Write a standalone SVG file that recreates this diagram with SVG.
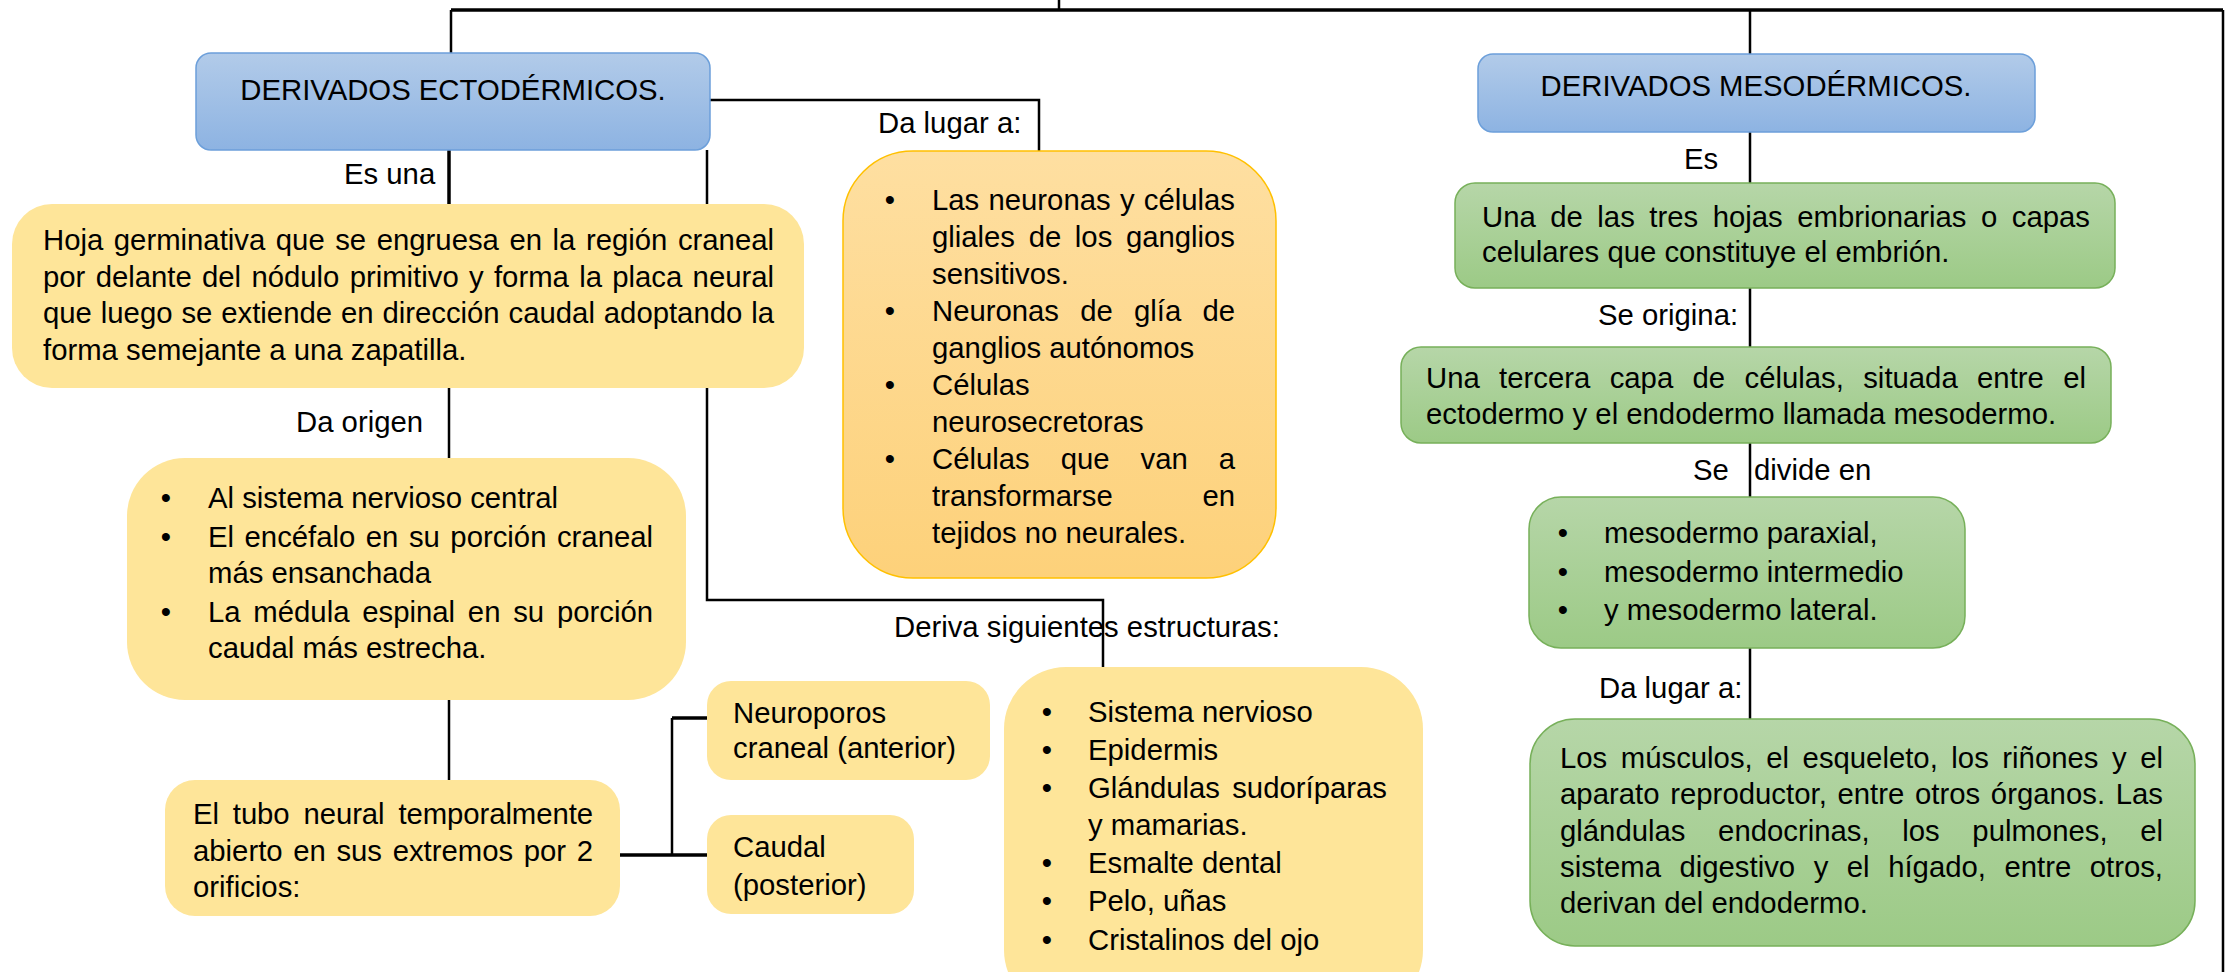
<svg xmlns="http://www.w3.org/2000/svg" width="2226" height="972" viewBox="0 0 2226 972">
<defs>
<linearGradient id="gBlue" x1="0" y1="0" x2="0" y2="1"><stop offset="0" stop-color="#B2CBE9"/><stop offset="1" stop-color="#8DB3E2"/></linearGradient>
<linearGradient id="gGreen" x1="0" y1="0" x2="0" y2="1"><stop offset="0" stop-color="#B6D6A8"/><stop offset="1" stop-color="#9CCA86"/></linearGradient>
<linearGradient id="gOrange" x1="0" y1="0" x2="0" y2="1"><stop offset="0" stop-color="#FEDFA1"/><stop offset="1" stop-color="#FDD17A"/></linearGradient>
<style>
text{font-family:"Liberation Sans",Arial,sans-serif;font-size:29.3px;fill:#000}
.blue{fill:url(#gBlue);stroke:#6C9FDA;stroke-width:1.5}
.green{fill:url(#gGreen);stroke:#77B05A;stroke-width:1.5}
.orange{fill:url(#gOrange);stroke:#FFC000;stroke-width:1.5}
.yellow{fill:#FEE599;stroke:none}
.c{fill:none;stroke:#000;stroke-width:2.5}
.top{fill:none;stroke:#000;stroke-width:3.5}
.mid{text-anchor:middle}
</style>
</defs>
<rect width="2226" height="972" fill="#fff"/>
<g id="connectors">
<path class="c" d="M1059 0 V10"/>
<path class="top" d="M451 10 H2223"/>
<path class="c" d="M2223 10 V972"/>
<path class="c" d="M451 10 V53"/>
<path class="c" d="M1750 10 V54"/>
<path class="c" d="M710 100 H1039 V151"/>
<path class="top" d="M449 150 V204"/>
<path class="c" d="M707 150 V600 H1103 V667"/>
<path class="c" d="M449 388 V458"/>
<path class="c" d="M449 700 V780"/>
<path class="top" d="M620 855 H707"/>
<path class="c" d="M672 718 V855"/>
<path class="top" d="M672 718 H707"/>
<path class="c" d="M1750 132 V183"/>
<path class="c" d="M1750 288 V347"/>
<path class="c" d="M1750 443 V497"/>
<path class="c" d="M1750 648 V719"/>
</g>
<g id="labels">
<text x="878" y="133">Da lugar a:</text>
<text x="344" y="184">Es una</text>
<text x="296" y="432">Da origen</text>
<text x="894" y="637">Deriva siguientes estructuras:</text>
<text x="1684" y="169">Es</text>
<text x="1598" y="325">Se origina:</text>
<text x="1693" y="480">Se</text>
<text x="1754" y="480">divide en</text>
<text x="1599" y="698">Da lugar a:</text>
</g>
<g id="ecto">
<rect class="blue" x="196" y="53" width="514" height="97" rx="15"/>
<text class="mid" x="453" y="100">DERIVADOS ECTODÉRMICOS.</text>
</g>
<g id="hoja">
<rect class="yellow" x="12" y="204" width="792" height="184" rx="40"/>
<text x="43" y="250" textLength="731" lengthAdjust="spacing" style="word-spacing:2.4px">Hoja germinativa que se engruesa en la región craneal</text>
<text x="43" y="287" textLength="731" lengthAdjust="spacing" style="word-spacing:2.2px">por delante del nódulo primitivo y forma la placa neural</text>
<text x="43" y="323" textLength="731" lengthAdjust="spacing" style="word-spacing:0.8px">que luego se extiende en dirección caudal adoptando la</text>
<text x="43" y="360">forma semejante a una zapatilla.</text>
</g>
<g id="origen">
<rect class="yellow" x="127" y="458" width="559" height="242" rx="58"/>
<text class="mid" x="166" y="508">•</text>
<text x="208" y="508">Al sistema nervioso central</text>
<text class="mid" x="166" y="547">•</text>
<text x="208" y="547" textLength="445" lengthAdjust="spacing" style="word-spacing:2.4px">El encéfalo en su porción craneal</text>
<text x="208" y="583">más ensanchada</text>
<text class="mid" x="166" y="622">•</text>
<text x="208" y="622" textLength="445" lengthAdjust="spacing" style="word-spacing:4.6px">La médula espinal en su porción</text>
<text x="208" y="658">caudal más estrecha.</text>
</g>
<g id="tubo">
<rect class="yellow" x="165" y="780" width="455" height="136" rx="30"/>
<text x="193" y="824" textLength="400" lengthAdjust="spacing" style="word-spacing:5.8px">El tubo neural temporalmente</text>
<text x="193" y="861" textLength="400" lengthAdjust="spacing" style="word-spacing:2.5px">abierto en sus extremos por 2</text>
<text x="193" y="897">orificios:</text>
</g>
<g id="neuroporos">
<rect class="yellow" x="707" y="681" width="283" height="99" rx="24"/>
<text x="733" y="723">Neuroporos</text>
<text x="733" y="758">craneal (anterior)</text>
</g>
<g id="caudal">
<rect class="yellow" x="707" y="815" width="207" height="99" rx="24"/>
<text x="733" y="857">Caudal</text>
<text x="733" y="895">(posterior)</text>
</g>
<g id="dalugar">
<rect class="orange" x="843" y="151" width="433" height="427" rx="70"/>
<text class="mid" x="890" y="210">•</text>
<text x="932" y="210" textLength="303" lengthAdjust="spacing" style="word-spacing:1.1px">Las neuronas y células</text>
<text x="932" y="247" textLength="303" lengthAdjust="spacing" style="word-spacing:5.5px">gliales de los ganglios</text>
<text x="932" y="284">sensitivos.</text>
<text class="mid" x="890" y="321">•</text>
<text x="932" y="321" textLength="303" lengthAdjust="spacing" style="word-spacing:13.1px">Neuronas de glía de</text>
<text x="932" y="358">ganglios autónomos</text>
<text class="mid" x="890" y="395">•</text>
<text x="932" y="395">Células</text>
<text x="932" y="432">neurosecretoras</text>
<text class="mid" x="890" y="469">•</text>
<text x="932" y="469" textLength="303" lengthAdjust="spacing" style="word-spacing:22.8px">Células que van a</text>
<text y="506"><tspan x="932">transformarse</tspan><tspan x="1235" text-anchor="end">en</tspan></text>
<text x="932" y="543">tejidos no neurales.</text>
</g>
<g id="deriva">
<rect class="yellow" x="1004" y="667" width="419" height="345" rx="62"/>
<text class="mid" x="1047" y="722">•</text>
<text x="1088" y="722">Sistema nervioso</text>
<text class="mid" x="1047" y="760">•</text>
<text x="1088" y="760">Epidermis</text>
<text class="mid" x="1047" y="798">•</text>
<text x="1088" y="798" textLength="299" lengthAdjust="spacing" style="word-spacing:4px">Glándulas sudoríparas</text>
<text x="1088" y="835">y mamarias.</text>
<text class="mid" x="1047" y="873">•</text>
<text x="1088" y="873">Esmalte dental</text>
<text class="mid" x="1047" y="911">•</text>
<text x="1088" y="911">Pelo, uñas</text>
<text class="mid" x="1047" y="950">•</text>
<text x="1088" y="950">Cristalinos del ojo</text>
</g>
<g id="meso">
<rect class="blue" x="1478" y="54" width="557" height="78" rx="15"/>
<text class="mid" x="1756" y="96">DERIVADOS MESODÉRMICOS.</text>
</g>
<g id="g1">
<rect class="green" x="1455" y="183" width="660" height="105" rx="20"/>
<text x="1482" y="227" textLength="608" lengthAdjust="spacing" style="word-spacing:6.4px">Una de las tres hojas embrionarias o capas</text>
<text x="1482" y="262">celulares que constituye el embrión.</text>
</g>
<g id="g2">
<rect class="green" x="1401" y="347" width="710" height="96" rx="20"/>
<text x="1426" y="388" textLength="660" lengthAdjust="spacing" style="word-spacing:11.2px">Una tercera capa de células, situada entre el</text>
<text x="1426" y="424">ectodermo y el endodermo llamada mesodermo.</text>
</g>
<g id="g3">
<rect class="green" x="1529" y="497" width="436" height="151" rx="32"/>
<text class="mid" x="1563" y="543">•</text>
<text x="1604" y="543">mesodermo paraxial,</text>
<text class="mid" x="1563" y="582">•</text>
<text x="1604" y="582">mesodermo intermedio</text>
<text class="mid" x="1563" y="620">•</text>
<text x="1604" y="620">y mesodermo lateral.</text>
</g>
<g id="g4">
<rect class="green" x="1530" y="719" width="665" height="227" rx="45"/>
<text x="1560" y="768" textLength="603" lengthAdjust="spacing" style="word-spacing:5.4px">Los músculos, el esqueleto, los riñones y el</text>
<text x="1560" y="804" textLength="603" lengthAdjust="spacing" style="word-spacing:2.4px">aparato reproductor, entre otros órganos. Las</text>
<text x="1560" y="841" textLength="603" lengthAdjust="spacing" style="word-spacing:24.5px">glándulas endocrinas, los pulmones, el</text>
<text x="1560" y="877" textLength="603" lengthAdjust="spacing" style="word-spacing:10.4px">sistema digestivo y el hígado, entre otros,</text>
<text x="1560" y="913">derivan del endodermo.</text>
</g>
</svg>
